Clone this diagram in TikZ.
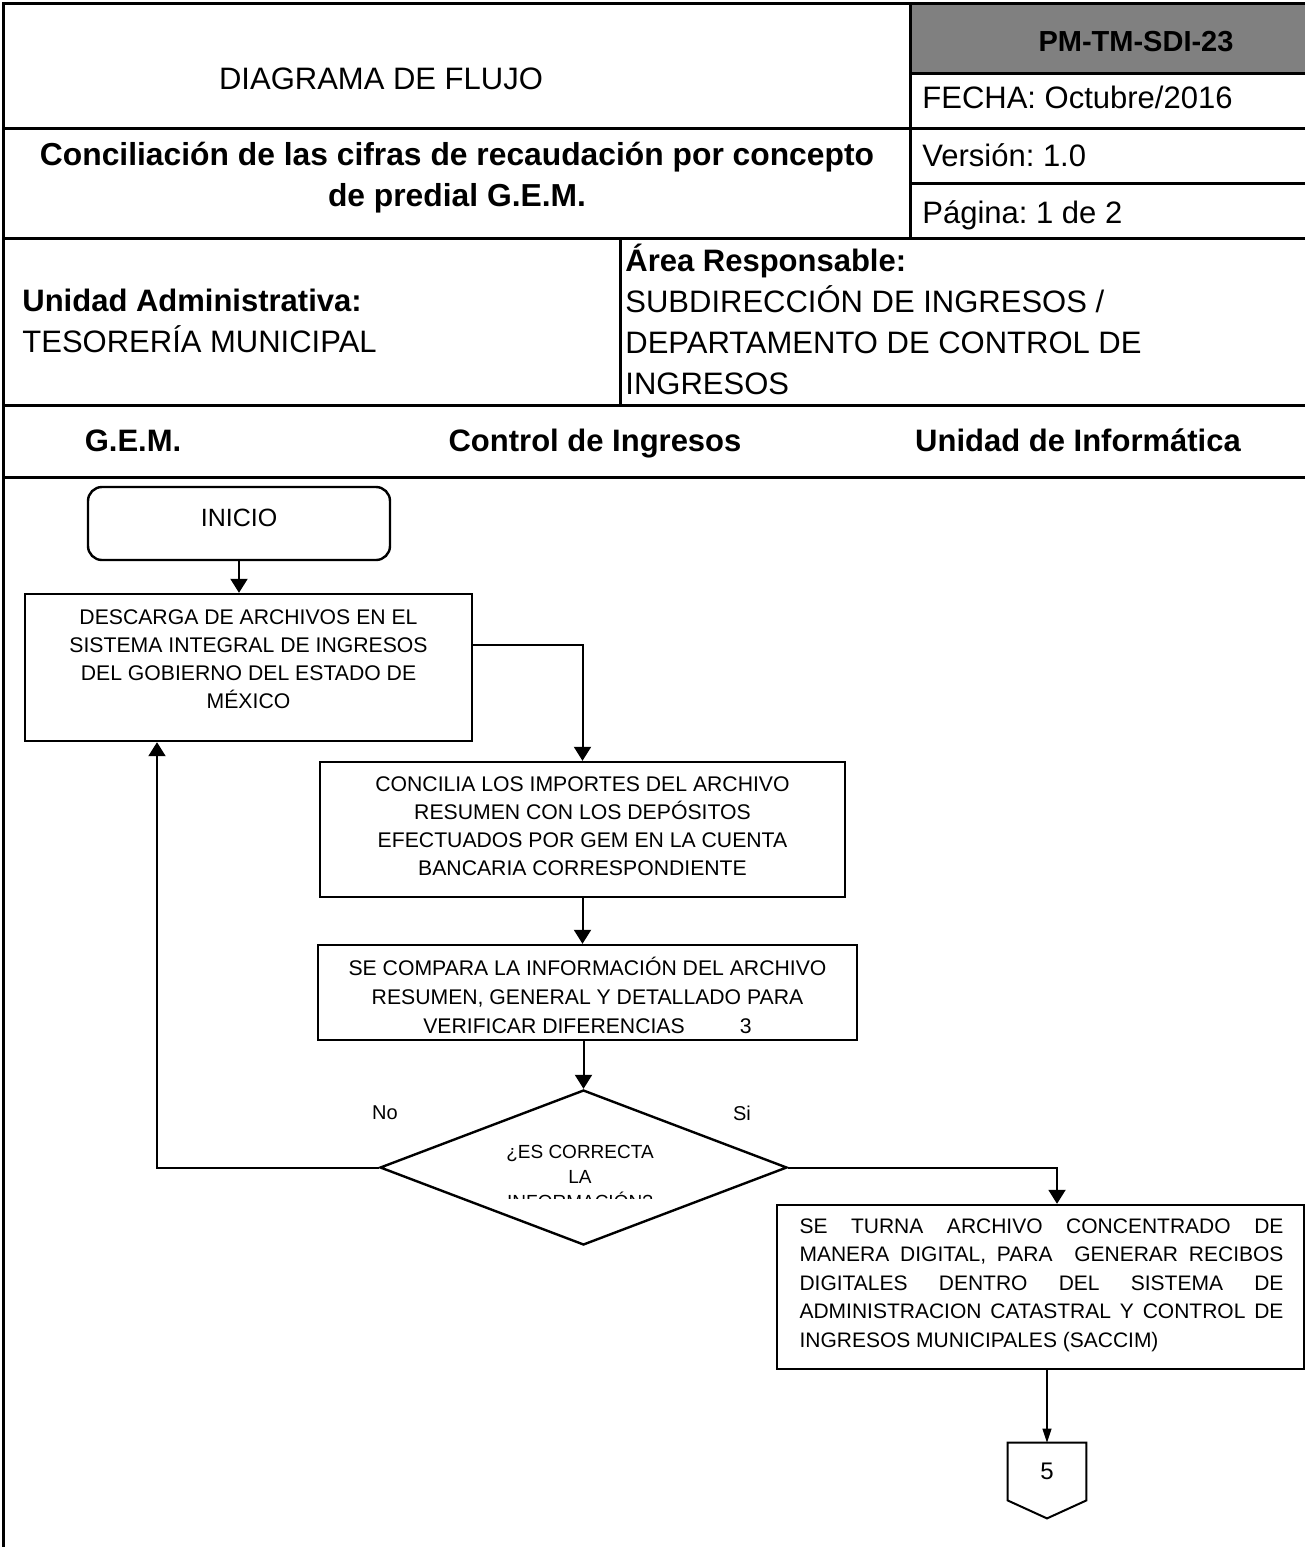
\documentclass[tikz,border=0pt]{standalone}
\usepackage{fontspec}
\setmainfont{Liberation Sans}
\usepackage{xcolor}
\usepackage{tikz}
\usetikzlibrary{positioning, arrows.meta, shapes.geometric}
\definecolor{hdrgray}{HTML}{808080}
\frenchspacing

\tikzset{
  rule/.style={line width=1.5pt},
  hdr/.style={inner sep=0pt, font=\fontsize{15.5}{20.5}\selectfont},
  hdrbold/.style={inner sep=0pt, font=\fontsize{15.5}{20.5}\selectfont\bfseries},
  lanehead/.style={hdrbold, text height=11.1pt, text depth=0pt},
  procbox/.style={draw, line width=1.2pt, inner sep=0pt},
  proctext/.style={inner sep=0pt, align=center, font=\fontsize{10.6}{14}\selectfont},
  flow/.style={line width=1pt, -{Triangle[length=7pt, width=8.5pt]}},
  thinflow/.style={line width=0.6pt, -{Triangle[length=7pt, width=4.5pt]}},
}

\begin{document}
\begin{tikzpicture}[x=0.5pt, y=-0.5pt]
  \useasboundingbox (0,0) rectangle (1305,1547);

  \fill[hdrgray] (910,3) rectangle (1305,73);
  \draw[rule] (1305,3) -- (3,3) -- (3,1547);
  \draw[rule] (910,3) -- (910,238);
  \draw[rule] (910,73) -- (1305,73);
  \draw[rule] (3,128) -- (1305,128);
  \draw[rule] (910,183) -- (1305,183);
  \draw[rule] (3,238) -- (1305,238);
  \draw[rule] (620,238) -- (620,405);
  \draw[rule] (3,405) -- (1305,405);
  \draw[rule] (3,477) -- (1305,477);

  \node[hdr, text height=11.1pt, text depth=0pt] (titulo) at (381,78) {DIAGRAMA DE FLUJO};
  \node[hdrbold, text height=11.1pt, text depth=0pt, font=\fontsize{14.5}{20}\selectfont\bfseries] (clave) at (1136,40) {PM-TM-SDI-23};
  \node[hdr, anchor=west, text height=11.1pt, text depth=0pt] (fecha) at (922,97) {FECHA: Octubre/2016};
  \node[hdr, anchor=west, text height=11.1pt, text depth=0pt] (version) at (922,155) {Versión: 1.0};
  \node[hdr, anchor=west, text height=11.1pt, text depth=0pt] (pagina) at (922,212) {Página: 1 de 2};
  \node[hdrbold, align=center, font=\fontsize{15.9}{20.5}\selectfont\bfseries] (proceso) at (457,178) {Conciliación de las cifras de recaudación por concepto\\de predial G.E.M.};
  \node[hdr, anchor=west, align=left] (unidad) at (22,321) {\textbf{Unidad Administrativa:}\\TESORERÍA MUNICIPAL};
  \node[hdr, anchor=west, align=left] (area) at (625,319) {\textbf{Área Responsable:}\\SUBDIRECCIÓN DE INGRESOS /\\DEPARTAMENTO DE CONTROL DE\\INGRESOS};

  \node[lanehead] (gem) at (133,440) {G.E.M.};
  \node[lanehead] (control) at (595,440) {Control de Ingresos};
  \node[lanehead] (informatica) at (1078,440) {Unidad de Informática};

  \node[procbox, rounded corners=7pt, minimum width=151pt, minimum height=36.5pt,
        font=\fontsize{12.5}{14}\selectfont, text height=9pt, text depth=6pt] (inicio) at (239,523.5) {INICIO};

  \node[procbox, minimum width=223.5pt, minimum height=73.5pt] (descarga) at (248.5,667.5) {};
  \node[proctext] (descargatxt) at ([yshift=4.25pt]descarga.center) {DESCARGA DE ARCHIVOS EN EL\\SISTEMA INTEGRAL DE INGRESOS\\DEL GOBIERNO DEL ESTADO DE\\MÉXICO};

  \node[procbox, minimum width=262.5pt, minimum height=67.5pt] (concilia) at (582.5,829.5) {};
  \node[proctext] (conciliatxt) at ([yshift=1.75pt]concilia.center) {CONCILIA LOS IMPORTES DEL ARCHIVO\\RESUMEN CON LOS DEPÓSITOS\\EFECTUADOS POR GEM EN LA CUENTA\\BANCARIA CORRESPONDIENTE};

  \node[procbox, minimum width=269.5pt, minimum height=47.5pt] (compara) at (587.5,992.5) {};
  \begin{scope}
    \clip (320,947) rectangle (855,1033);
    \node[proctext, font=\fontsize{10.6}{14.5}\selectfont] (comparatxt) at ([yshift=-1.5pt]compara.center) {SE COMPARA LA INFORMACIÓN DEL ARCHIVO\\RESUMEN, GENERAL Y DETALLADO PARA\\VERIFICAR DIFERENCIAS\hspace{2.6em}3};
  \end{scope}

  \node[procbox, diamond, minimum width=203.5pt, minimum height=77.5pt] (valida) at (583.5,1167.5) {};
  \begin{scope}
    \clip (380,1085) rectangle (790,1198);
    \node[proctext, font=\fontsize{9.5}{12.5}\selectfont] (validatxt) at (580,1177) {¿ES CORRECTA\\LA\\INFORMACIÓN?};
  \end{scope}
  \node[font=\fontsize{10}{12}\selectfont, inner sep=0pt] (no) at (385,1113) {No};
  \node[font=\fontsize{10}{12}\selectfont, inner sep=0pt] (si) at (742,1113) {Si};

  \node[procbox, minimum width=263.5pt, minimum height=82pt] (turna) at (1040.5,1287) {};
  \node[proctext, align=justify, text width=242pt, font=\fontsize{10.5}{14.25}\selectfont] (turnatxt) at (1041.5,1285)
    {\noindent SE TURNA ARCHIVO CONCENTRADO DE\linebreak MANERA DIGITAL, PARA \ GENERAR RECIBOS\linebreak DIGITALES DENTRO DEL SISTEMA DE\linebreak ADMINISTRACION CATASTRAL Y CONTROL DE\linebreak INGRESOS MUNICIPALES (SACCIM)};

  \node[minimum width=39pt, minimum height=28.5pt, inner sep=0pt, font=\fontsize{12}{12}\selectfont] (conector) at (1047,1471.5) {5};
  \draw[line width=1pt] (conector.north west) -- (conector.north east) -- (conector.south east)
    -- ([yshift=-9pt]conector.south) -- (conector.south west) -- cycle;

  \draw[flow] (inicio.south) -- (inicio.south |- descarga.north);
  \draw[flow] ([yshift=11.25pt]descarga.east) -| (concilia.north);
  \draw[flow] (concilia.south) -- (concilia.south |- compara.north);
  \draw[flow] (valida.north |- compara.south) -- (valida.north);
  \draw[flow] (valida.west) -| ([xshift=-45.75pt]descarga.south);
  \draw[flow] (valida.east) -| ([xshift=8.25pt]turna.north);
  \draw[thinflow] (turna.south -| conector.north) -- (conector.north);
\end{tikzpicture}
\end{document}
